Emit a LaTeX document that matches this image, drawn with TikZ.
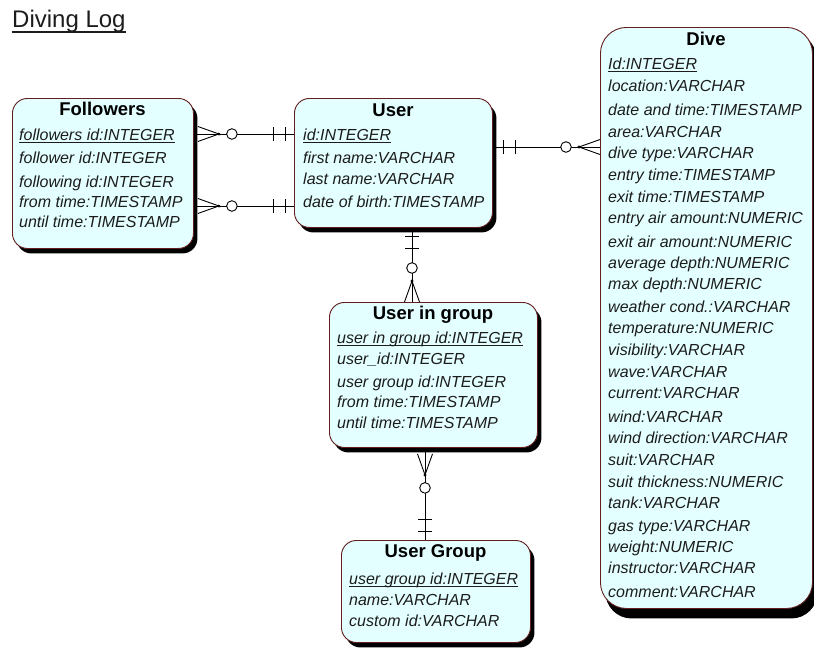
\documentclass[tikz,border=0pt]{standalone}
\usepackage{fontspec}
\setmainfont{Liberation Sans}
\usetikzlibrary{shadows}
\definecolor{boxfill}{RGB}{228,255,255}
\definecolor{boxline}{RGB}{100,30,30}
\definecolor{rowtext}{RGB}{28,28,28}

% zero-or-many end: #1 point on the box edge, #2 direction away from the box, #3 gap
\newcommand\zeroMany[3]{%
  \begin{scope}[shift={(#1)}, rotate=#2]
    \draw[link] (#3pt,7.5pt) -- (#3pt+21pt,0pt) -- (#3pt,-7.5pt);
    \fill (#3pt+21pt,0pt) circle[radius=1.6pt];
    \draw[link, fill=white] (#3pt+34pt,0pt) circle[radius=5.3pt];
  \end{scope}}
% exactly-one end: two bars
\newcommand\oneOne[3]{%
  \begin{scope}[shift={(#1)}, rotate=#2]
    \draw[link] (#3pt+9pt,7pt) -- (#3pt+9pt,-7pt);
    \draw[link] (#3pt+21pt,7pt) -- (#3pt+21pt,-7pt);
  \end{scope}}

\begin{document}
\begin{tikzpicture}[x=1pt,y=-1pt,
  ebox/.style={draw=boxline, line width=0.9pt, fill=boxfill, rounded corners=15pt,
    inner sep=0pt, anchor=north west,
    drop shadow={shadow xshift=4pt, shadow yshift=-5pt, opacity=1, fill=black}},
  row/.style={anchor=base west, inner sep=0pt, text=rowtext,
    font=\fontsize{16}{18}\selectfont\itshape},
  head/.style={anchor=base, inner sep=0pt, text=black,
    font=\fontsize{18.5}{20}\selectfont\bfseries},
  keyline/.style={line width=0.9pt, rowtext},
  link/.style={line width=0.9pt, black}]
\useasboundingbox (0,0) rectangle (814,648);

% title
\node[anchor=base west, inner sep=0pt, text=rowtext, font=\fontsize{24}{26}\selectfont] (title) at (12,27) {Diving Log};
\draw[line width=1.3pt, rowtext] ([yshift=-5pt]title.base west) -- ([yshift=-5pt]title.base east);

% entity boxes
\node[ebox, minimum width=181pt, minimum height=150pt] (fol) at (12,98) {};
\node[ebox, minimum width=198pt, minimum height=129pt] (usr) at (294,98) {};
\node[ebox, minimum width=212pt, minimum height=581pt, rounded corners=26pt,
  drop shadow={shadow xshift=5pt, shadow yshift=-10pt, opacity=1, fill=black}] (dive) at (600,27) {};
\node[ebox, minimum width=208pt, minimum height=145pt] (uig) at (329,302) {};
\node[ebox, minimum width=189pt, minimum height=102pt] (ug) at (341,540) {};

% Followers
\node[head] (folh) at (102.5,115) {Followers};
\node[row] (fol1) at (19,140) {followers id:INTEGER};
\node[row] (fol2) at (19,163) {follower id:INTEGER};
\node[row] (fol3) at (19,187) {following id:INTEGER};
\node[row] (fol4) at (19,207) {from time:TIMESTAMP};
\node[row] (fol5) at (19,227) {until time:TIMESTAMP};
\draw[keyline] ([yshift=-2pt]fol1.base west) -- ([yshift=-2pt]fol1.base east);

% User
\node[head] (usrh) at (393,116) {User};
\node[row] (usr1) at (303,140) {id:INTEGER};
\node[row] (usr2) at (303,163) {first name:VARCHAR};
\node[row] (usr3) at (303,184) {last name:VARCHAR};
\node[row] (usr4) at (303,207) {date of birth:TIMESTAMP};
\draw[keyline] ([yshift=-2pt]usr1.base west) -- ([yshift=-2pt]usr1.base east);

% Dive
\node[head] (diveh) at (706,45) {Dive};
\foreach \t/\y [count=\i] in {
  Id:INTEGER/69, location:VARCHAR/91, date and time:TIMESTAMP/115, area:VARCHAR/137,
  dive type:VARCHAR/158, entry time:TIMESTAMP/180, exit time:TIMESTAMP/202,
  entry air amount:NUMERIC/223, exit air amount:NUMERIC/247, average depth:NUMERIC/268,
  max depth:NUMERIC/289, weather cond.:VARCHAR/312, temperature:NUMERIC/333,
  visibility:VARCHAR/355, wave:VARCHAR/377, current:VARCHAR/398, wind:VARCHAR/422,
  wind direction:VARCHAR/443, suit:VARCHAR/465, suit thickness:NUMERIC/487,
  tank:VARCHAR/508, gas type:VARCHAR/531, weight:NUMERIC/552, instructor:VARCHAR/573,
  comment:VARCHAR/597}
  \node[row] (dive\i) at (608,\y) {\t};
\draw[keyline] ([yshift=-2pt]dive1.base west) -- ([yshift=-2pt]dive1.base east);

% User in group
\node[head] (uigh) at (433,319) {User in group};
\node[row] (uig1) at (337,343) {user in group id:INTEGER};
\node[row] (uig2) at (337,364) {user\_id:INTEGER};
\node[row] (uig3) at (337,387) {user group id:INTEGER};
\node[row] (uig4) at (337,407) {from time:TIMESTAMP};
\node[row] (uig5) at (337,428) {until time:TIMESTAMP};
\draw[keyline] ([yshift=-2pt]uig1.base west) -- ([yshift=-2pt]uig1.base east);

% User Group
\node[head] (ugh) at (435.5,557) {User Group};
\node[row] (ug1) at (349,584) {user group id:INTEGER};
\node[row] (ug2) at (349,605) {name:VARCHAR};
\node[row] (ug3) at (349,626) {custom id:VARCHAR};
\draw[keyline] ([yshift=-2pt]ug1.base west) -- ([yshift=-2pt]ug1.base east);

% relationships
\coordinate (fuA1) at (fol.east |- 0,134);
\coordinate (fuB1) at (usr.west |- 0,134);
\draw[link] (fuA1) -- (fuB1);
\zeroMany{fuA1}{0}{4}
\oneOne{fuB1}{180}{0}

\coordinate (fuA2) at (fol.east |- 0,206);
\coordinate (fuB2) at (usr.west |- 0,206);
\draw[link] (fuA2) -- (fuB2);
\zeroMany{fuA2}{0}{4}
\oneOne{fuB2}{180}{0}

\coordinate (udA) at (usr.east |- 0,147);
\coordinate (udB) at (dive.west |- 0,147);
\draw[link] (udA) -- (udB);
\oneOne{udA}{0}{2}
\zeroMany{udB}{180}{0}

\coordinate (ugA) at (usr.south -| 412,0);
\coordinate (ugB) at (uig.north -| 412,0);
\draw[link] (ugA) -- (ugB);
\oneOne{ugA}{-90}{0}
\zeroMany{ugB}{90}{0}

\coordinate (gA) at (uig.south -| 425,0);
\coordinate (gB) at (ug.north -| 425,0);
\draw[link] (gA) -- (gB);
\zeroMany{gA}{-90}{6}
\oneOne{gB}{90}{0}
\end{tikzpicture}
\end{document}
